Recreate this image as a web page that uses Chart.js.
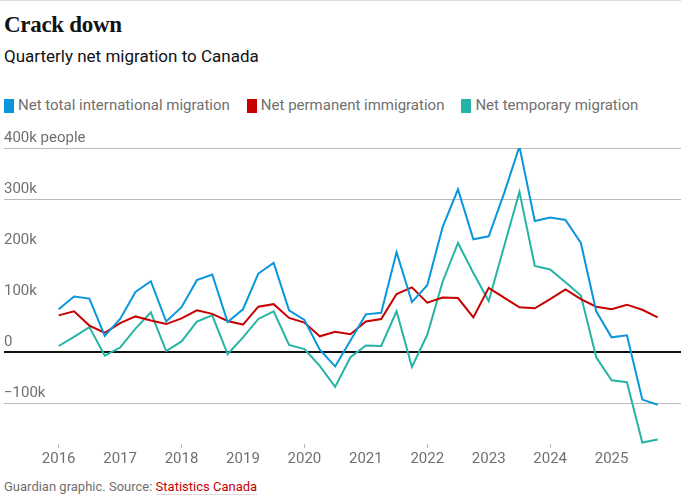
<!DOCTYPE html>
<html>
<head>
<meta charset="utf-8">
<script src="https://cdn.jsdelivr.net/npm/chart.js@4.4.1/dist/chart.umd.min.js"></script>
<style>
  body { margin: 0; width: 681px; height: 502px; background: #fff; position: relative; overflow: hidden; font-family: Roboto, "Noto Sans", sans-serif; }
  .topline { position: absolute; left: 0; top: 0; width: 681px; height: 1px; background: #dcdcdc; }
  h1 { position: absolute; left: 4px; top: 13px; margin: 0; font: bold 23px/23px "Liberation Serif", serif; color: #121212; letter-spacing: -0.3px; }
  .sub { position: absolute; left: 4px; top: 48px; font-size: 17px; line-height: 17px; color: #121212; }
  .legend { position: absolute; left: 4px; top: 98px; display: flex; font-size: 15px; line-height: 15px; color: #707070; }
  .legend span.item { display: flex; align-items: center; margin-right: 17px; }
  .legend i { display: inline-block; width: 10px; height: 14px; margin-right: 4px; }
  .wrap { position: absolute; left: 0; top: 125px; width: 681px; height: 345px; }
  .source { position: absolute; left: 4px; top: 480px; font-size: 13px; line-height: 13px; color: #707070; }
  .source a { color: #c70000; text-decoration: none; border-bottom: 1px solid #dcdcdc; }
</style>
</head>
<body>
<div class="topline"></div>
<h1>Crack down</h1>
<div class="sub">Quarterly net migration to Canada</div>
<div class="legend" id="legend"></div>
<div class="wrap"><canvas id="migrationChart" width="681" height="345"></canvas></div>
<div class="source">Guardian graphic. Source: <a>Statistics Canada</a></div>

<script>
// quarterly values in thousands of people, 2016 Q1 to 2025 Q4
const years = ['2016', '2017', '2018', '2019', '2020', '2021', '2022', '2023', '2024', '2025'];

const totalMigration = [
    84, 109, 105, 32, 65, 118, 139, 60, 88, 141,
    152, 59, 84, 154, 175, 82, 63, 5, -28, 23,
    74, 77, 196, 98, 131, 245, 319, 221, 227, 311,
    403, 257, 264, 259, 214, 80, 29, 33, -93, -103
];
const permanentImmigration = [
    72, 80, 52, 38, 57, 70, 62, 55, 66, 82,
    75, 61, 54, 89, 94, 67, 58, 31, 40, 35,
    60, 65, 114, 127, 97, 107, 106, 68, 126, 107,
    88, 86, 104, 123, 104, 89, 84, 93, 83, 68
];
const temporaryMigration = [
    12, 30, 49, -7, 9, 46, 78, 2, 21, 60,
    72, -4, 29, 65, 80, 14, 6, -27, -68, -10,
    13, 12, 80, -29, 34, 138, 214, 155, 100, 207,
    314, 169, 162, 137, 111, -10, -55, -59, -177, -171
];

const yTicks = [-100, 0, 100, 200, 300, 400];

const series = [
    { label: 'Net total international migration', values: totalMigration, color: '#0a96dc' },
    { label: 'Net permanent immigration', values: permanentImmigration, color: '#c70000' },
    { label: 'Net temporary migration', values: temporaryMigration, color: '#26b4a6' }
];

// legend
const legendEl = document.getElementById('legend');
series.forEach(s => {
    const item = document.createElement('span');
    item.className = 'item';
    item.innerHTML = '<i style="background:' + s.color + '"></i>' + s.label;
    legendEl.appendChild(item);
});

const axisFont = { family: 'Roboto', size: 15 };

new Chart(document.getElementById('migrationChart'), {
    type: 'line',
    data: {
        datasets: series.map(s => ({
            label: s.label,
            data: s.values.map((v, i) => ({ x: i, y: v })),
            borderColor: s.color,
            backgroundColor: s.color,
            borderWidth: 2,
            pointRadius: 0,
            tension: 0
        }))
    },
    options: {
        responsive: false,
        animation: false,
        devicePixelRatio: 1,
        layout: { padding: { left: 4, right: 0, top: 23, bottom: 0 } },
        plugins: {
            legend: { display: false },
            tooltip: { enabled: false }
        },
        scales: {
            x: {
                type: 'linear',
                min: -3.56,
                max: 40.52,
                border: { display: false },
                grid: {
                    drawOnChartArea: false,
                    drawTicks: true,
                    tickLength: 4,
                    tickWidth: 1,
                    tickColor: ctx => (ctx.index % 2 === 0 ? '#bababa' : 'rgba(0,0,0,0)')
                },
                afterBuildTicks: axis => {
                    axis.ticks = years.map((y, k) => ({ value: k * 4 }));
                },
                ticks: {
                    padding: 2,
                    maxRotation: 0,
                    autoSkip: false,
                    color: '#707070',
                    font: axisFont,
                    callback: v => years[Math.round(v / 4)]
                }
            },
            y: {
                min: -180,
                max: 400,
                border: { display: false },
                grid: {
                    drawTicks: false,
                    color: ctx => {
                        const v = ctx.tick.value;
                        if (v === 0) return '#121212';
                        if (v === 100 || v === 200) return 'rgba(0,0,0,0)';
                        return '#bababa';
                    },
                    lineWidth: ctx => (ctx.tick.value === 0 ? 2 : 1)
                },
                afterBuildTicks: axis => {
                    axis.ticks = yTicks.map(v => ({ value: v }));
                },
                ticks: {
                    mirror: true,
                    padding: 0,
                    labelOffset: -9.5,
                    color: '#707070',
                    font: axisFont,
                    callback: v => {
                        if (v === 400) return '400k people';
                        if (v === 0) return '0';
                        if (v < 0) return '\u2212' + Math.abs(v) + 'k';
                        return v + 'k';
                    }
                }
            }
        }
    }
});
</script>
</body>
</html>
